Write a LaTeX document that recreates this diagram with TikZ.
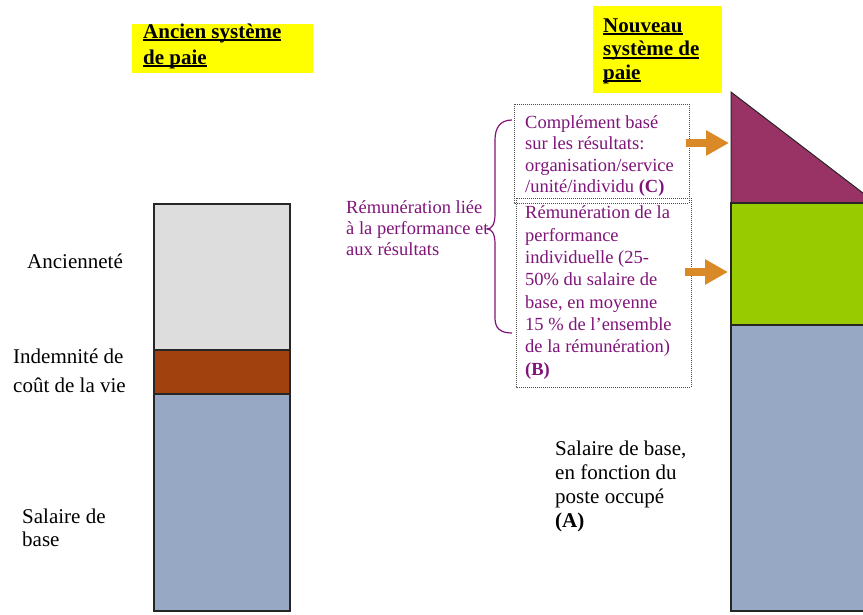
\documentclass[tikz,border=0pt]{standalone}
\usepackage{fontspec}
\setmainfont{Liberation Serif}
\usetikzlibrary{arrows.meta}
\definecolor{ylw}{RGB}{255,255,0}
\definecolor{gry}{RGB}{221,221,221}
\definecolor{brn}{RGB}{161,65,13}
\definecolor{blu}{RGB}{151,168,196}
\definecolor{grn}{RGB}{153,204,0}
\definecolor{plm}{RGB}{153,51,102}
\definecolor{prp}{RGB}{128,20,122}
\definecolor{org}{RGB}{217,138,38}
\newcommand{\myul}[1]{\setbox0\hbox{#1}\rlap{\rule[-3pt]{\wd0}{1.6pt}}\box0}
\begin{document}
\begin{tikzpicture}[x=1pt,y=-1pt,
  seg/.style={draw=black!85, line width=1.3pt},
  dotbox/.style={draw=black!70, line width=0.8pt, dash pattern=on 1pt off 1pt},
  txt/.style={anchor=base west, align=left, inner sep=0pt},
  arr/.style={draw=org, line width=8pt, -{Triangle[length=23pt,width=24pt]}}
]
\useasboundingbox (0,0) rectangle (863,614);
\clip (0,0) rectangle (863,614);

% title boxes
\fill[ylw] (132,24) rectangle (313,73);
\fill[ylw] (593,6) rectangle (722,93);
\node[txt, font=\bfseries\fontsize{21}{26}\selectfont] (t1) at (143,64) {\myul{Ancien système}\\\myul{de paie}};
\node[txt, font=\bfseries\fontsize{21}{23.5}\selectfont] (t2) at (603,79) {\myul{Nouveau}\\\myul{système de}\\\myul{paie}};

% left column
\filldraw[seg, fill=gry] (154,204) rectangle (290,350);
\filldraw[seg, fill=brn] (154,350) rectangle (290,394);
\filldraw[seg, fill=blu] (154,394) rectangle (290,611);

% right column
\filldraw[seg, fill=plm, line width=1pt] (731,92) -- (876,203) -- (731,203) -- cycle;
\filldraw[seg, fill=grn] (731,203) rectangle (880,325);
\filldraw[seg, fill=blu] (731,325) rectangle (880,611);

% dotted boxes
\draw[dotbox] (514,104) rectangle (689,203);
\draw[dotbox] (516,198) rectangle (691,387);

% black labels
\node[txt, font=\fontsize{21}{26}\selectfont] (anc) at (27,268) {Ancienneté};
\node[txt, font=\fontsize{21}{29}\selectfont] (ind) at (13,392) {Indemnité de\\coût de la vie};
\node[txt, font=\fontsize{21}{23}\selectfont] (sal) at (22,546) {Salaire de\\base};
\node[txt, font=\fontsize{21}{24}\selectfont] (sab) at (555,527) {Salaire de base,\\en fonction du\\poste occupé\\\textbf{(A)}};

% purple labels
\node[txt, text=prp, font=\fontsize{18.5}{21.5}\selectfont] (c) at (525,192.5) {Complément basé\\sur les résultats:\\organisation/service\\/unité/individu \textbf{(C)}};
\node[txt, text=prp, font=\fontsize{18.5}{22.3}\selectfont] (b) at (525,375) {Rémunération de la\\performance\\individuelle (25-\\50\% du salaire de\\base, en moyenne\\15 \% de l’ensemble\\de la rémunération)\\\textbf{(B)}};
\node[txt, text=prp, font=\fontsize{18.5}{21}\selectfont] (rl) at (346,255) {Rémunération liée\\à la performance et\\aux résultats};

% brace
\draw[prp, line width=1.2pt] (512,120) .. controls (500,120) and (495,128) .. (495,140) -- (495,214) .. controls (495,224) and (492,229) .. (487,229) .. controls (492,229) and (495,234) .. (495,244) -- (495,318) .. controls (495,328) and (500,333) .. (512,333);

% arrows
\coordinate (a1s) at (686,143);
\coordinate (a1e) at (729,143);
\coordinate (a2s) at (685,272);
\coordinate (a2e) at (728,272);
\draw[arr] (a1s) -- (a1e);
\draw[arr] (a2s) -- (a2e);
\end{tikzpicture}
\end{document}
